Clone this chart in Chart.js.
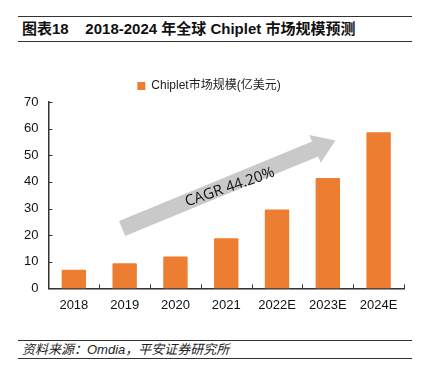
<!DOCTYPE html>
<html>
<head>
<meta charset="utf-8">
<script src="https://cdn.jsdelivr.net/npm/chart.js@4.4.0/dist/chart.umd.min.js"></script>
<style>
  body { margin: 0; background: #fff; }
  #wrap { position: relative; width: 422px; height: 377px; }
  #title {
    position: absolute; left: 18px; top: 16px; width: 390px; height: 24px;
    border-top: 1.5px solid #333; border-bottom: 1.5px solid #333;
    font: bold 15px "Liberation Sans", "Noto Sans CJK SC", sans-serif;
    line-height: 24px; color: #111; padding-left: 4px; box-sizing: content-box;
  }
  #source {
    position: absolute; left: 18px; top: 340px; width: 390px; height: 17px;
    border-top: 1.5px solid #333; border-bottom: 1.5px solid #333;
    font: italic 13px "Liberation Sans", "Noto Sans CJK SC", sans-serif;
    line-height: 17px; color: #222; padding-left: 4px;
  }
  #chartBox { position: absolute; left: 0; top: 50px; width: 422px; height: 272px; }
</style>
</head>
<body>
<div id="wrap">
  <div id="title">图表18&nbsp;&nbsp;&nbsp;&nbsp;2018-2024 年全球 Chiplet 市场规模预测</div>
  <div id="chartBox"><canvas id="marketChart"></canvas></div>
  <div id="source">资料来源：Omdia，平安证券研究所</div>
</div>
<script>
// data
const years = ['2018', '2019', '2020', '2021', '2022E', '2023E', '2024E'];
const marketSize = [7.0, 9.4, 12.0, 18.8, 29.6, 41.5, 58.6];
const yTicks = [0, 10, 20, 30, 40, 50, 60, 70];
const seriesName = 'Chiplet市场规模(亿美元)';
const cagrText = 'CAGR 44.20%';

// inward tick marks for both axes
const inwardTicks = {
    id: 'inwardTicks',
    afterDraw(chart) {
        const ctx = chart.ctx;
        const x = chart.scales.x, y = chart.scales.y;
        ctx.save();
        ctx.strokeStyle = '#333';
        ctx.lineWidth = 1;
        ctx.beginPath();
        for (let i = 0; i <= years.length; i++) {
            const px = Math.round(x.left + i * (x.right - x.left) / years.length) + 0.5;
            ctx.moveTo(px, y.bottom);
            ctx.lineTo(px, y.bottom - 4);
        }
        yTicks.forEach(v => {
            const py = Math.round(y.getPixelForValue(v)) + 0.5;
            ctx.moveTo(x.left, py);
            ctx.lineTo(x.left + 4, py);
        });
        ctx.stroke();
        ctx.restore();
    }
};

// gray growth arrow with rotated CAGR text
const cagrArrow = {
    id: 'cagrArrow',
    beforeDatasetsDraw(chart) {
        const ctx = chart.ctx;
        const x = chart.scales.x, y = chart.scales.y;
        const x0 = x.getPixelForValue(0.95), y0 = y.getPixelForValue(22.5);
        const x1 = x.getPixelForValue(5.15), y1 = y.getPixelForValue(55.5);
        const ang = Math.atan2(y1 - y0, x1 - x0);
        const len = Math.hypot(x1 - x0, y1 - y0);
        const half = 8, headLen = 22, headHalf = 15;
        ctx.save();
        ctx.translate(x0, y0);
        ctx.rotate(ang);
        ctx.fillStyle = '#c9c9c9';
        ctx.beginPath();
        ctx.moveTo(0, -half);
        ctx.lineTo(len - headLen, -half);
        ctx.lineTo(len - headLen, -headHalf);
        ctx.lineTo(len, 0);
        ctx.lineTo(len - headLen, headHalf);
        ctx.lineTo(len - headLen, half);
        ctx.lineTo(0, half);
        ctx.closePath();
        ctx.fill();
        ctx.fillStyle = '#111';
        ctx.font = '15px "Open Sans", "Liberation Sans", sans-serif';
        ctx.textAlign = 'center';
        ctx.textBaseline = 'middle';
        ctx.rotate(0.06);
        ctx.fillText(cagrText, len * 0.5, -4);
        ctx.restore();
    }
};

const ctx = document.getElementById('marketChart').getContext('2d');
const marketChart = new Chart(ctx, {
    type: 'bar',
    data: {
        labels: years,
        datasets: [{
            label: seriesName,
            data: marketSize,
            backgroundColor: '#ED7D31',
            borderRadius: 1,
            categoryPercentage: 1,
            barPercentage: 0.48
        }]
    },
    options: {
        responsive: true,
        maintainAspectRatio: false,
        animation: false,
        layout: { padding: { left: 14, right: 18, top: 16, bottom: 0 } },
        plugins: {
            legend: {
                display: true,
                position: 'top',
                labels: {
                    boxWidth: 8,
                    boxHeight: 8,
                    color: '#222',
                    padding: 14,
                    font: { family: '"Liberation Sans", "Noto Sans CJK SC", sans-serif', size: 12 }
                }
            },
            tooltip: { enabled: false }
        },
        scales: {
            x: {
                grid: { display: false, drawTicks: false },
                border: { display: true, color: '#333', width: 1.5 },
                ticks: {
                    color: '#111',
                    padding: 9,
                    font: { family: '"Liberation Sans", Arial, sans-serif', size: 13 }
                }
            },
            y: {
                min: 0,
                max: 70,
                grid: { display: false, drawTicks: false },
                border: { display: true, color: '#333', width: 1.5 },
                afterBuildTicks(scale) {
                    scale.ticks = yTicks.map(v => ({ value: v }));
                },
                ticks: {
                    color: '#111',
                    padding: 10,
                    font: { family: '"Liberation Sans", Arial, sans-serif', size: 13 }
                }
            }
        }
    },
    plugins: [inwardTicks, cagrArrow]
});
</script>
</body>
</html>
